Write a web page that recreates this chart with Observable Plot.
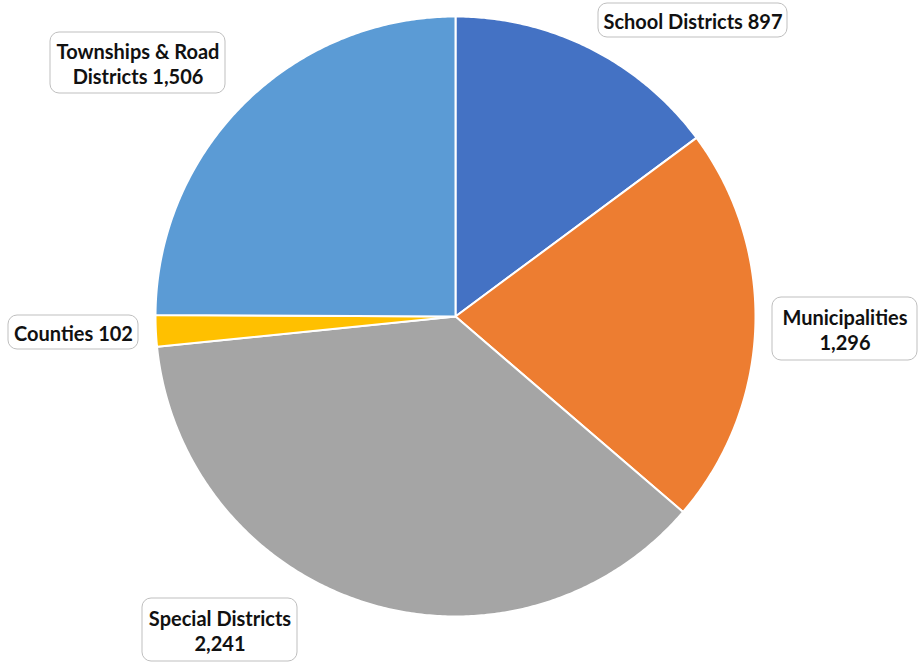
<!DOCTYPE html>
<html>
<head>
<meta charset="utf-8">
<script src="https://cdn.jsdelivr.net/npm/d3@7"></script>
<script src="https://cdn.jsdelivr.net/npm/@observablehq/plot@0.6"></script>
<style>
  html, body { margin: 0; padding: 0; background: #fff; }
  #chart { width: 921px; height: 662px; }
</style>
</head>
<body>
<div id="chart"></div>
<script>
// ---- data ----
const categories = ["School Districts", "Municipalities", "Special Districts", "Counties", "Townships & Road Districts"];
const values = [897, 1296, 2241, 102, 1506];
const labelText = ["School Districts 897", "Municipalities\n1,296", "Special Districts\n2,241", "Counties 102", "Townships & Road\nDistricts 1,506"];
const colors = ["#4472C4", "#ED7D31", "#A5A5A5", "#FFC000", "#5B9BD5"];

// ---- layout (pixel space) ----
const W = 921, H = 662;
const cx = 455, cy = 316, R = 300;
// label box centers and sizes
const boxCx = [692.5, 844.5, 219.5, 73, 137.5];
const boxCy = [20, 328.5, 629.5, 332, 62.5];
const boxW = [189, 145, 155, 130, 175];
const boxH = [34, 63, 63, 34, 61];

const table = categories.map((c, i) => ({name: c, value: values[i], color: colors[i], label: labelText[i]}));
const arcs = d3.pie().sort(null).value(d => d.value).startAngle(0).endAngle(2 * Math.PI)(table);

const slicePts = [];
for (const a of arcs) {
  const n = Math.max(2, Math.ceil((a.endAngle - a.startAngle) / (Math.PI / 360)));
  slicePts.push({name: a.data.name, x: cx, y: cy});
  for (let k = 0; k <= n; k++) {
    const t = a.startAngle + (a.endAngle - a.startAngle) * k / n;
    slicePts.push({name: a.data.name, x: cx + R * Math.sin(t), y: cy - R * Math.cos(t)});
  }
  slicePts.push({name: a.data.name, x: cx, y: cy});
}

const boxes = table.map((d, i) => ({
  name: d.name, label: d.label,
  x1: boxCx[i] - boxW[i] / 2, x2: boxCx[i] + boxW[i] / 2,
  y1: boxCy[i] - boxH[i] / 2, y2: boxCy[i] + boxH[i] / 2,
  cx: boxCx[i], cy: boxCy[i]
}));

const chart = Plot.plot({
  width: W, height: H,
  margin: 0,
  x: {domain: [0, W], range: [0, W], axis: null},
  y: {domain: [0, H], range: [0, H], axis: null},
  color: {domain: categories, range: colors},
  style: {fontFamily: "Lato, sans-serif", background: "#fff"},
  marks: [
    Plot.line(slicePts, {x: "x", y: "y", z: "name", fill: "name", stroke: "#fff", strokeWidth: 2, strokeLinejoin: "round"}),
    Plot.rect(boxes, {x1: "x1", x2: "x2", y1: "y1", y2: "y2", fill: "#fff", stroke: "#bfbfbf", strokeWidth: 1, rx: 9}),
    Plot.text(boxes, {x: "cx", y: "cy", text: "label", fontSize: 20, fontWeight: "bold", fill: "#111", lineHeight: 1.25, textAnchor: "middle"})
  ]
});
document.getElementById("chart").appendChild(chart);
</script>
</body>
</html>
